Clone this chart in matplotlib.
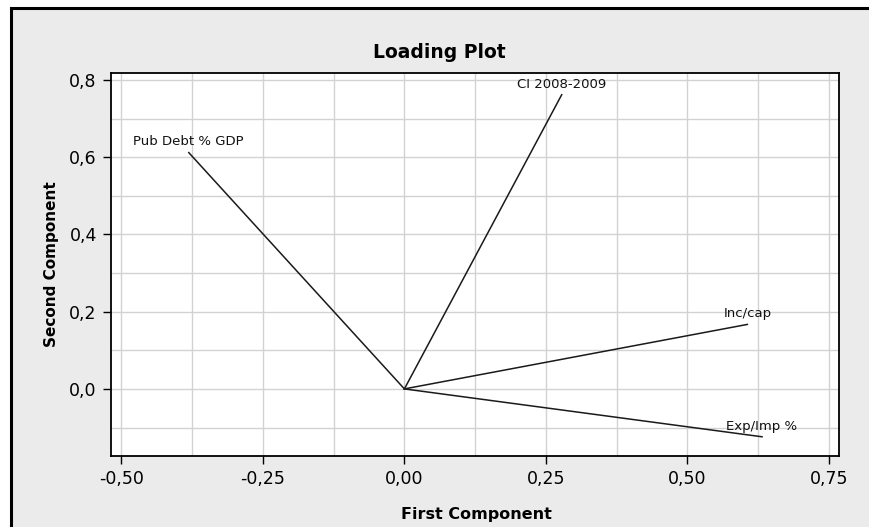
"""
Loading plot of the first two principal components.
"""

import numpy as np
import matplotlib
matplotlib.use("Agg")
import matplotlib.pyplot as plt
from matplotlib.patches import Rectangle
from matplotlib.ticker import MultipleLocator, FuncFormatter

# loadings on the first and second component
variables = ["Pub Debt % GDP", "CI 2008-2009", "Inc/cap", "Exp/Imp %"]
first_comp = [-0.381, 0.278, 0.606, 0.632]
second_comp = [0.612, 0.762, 0.167, -0.124]

x_ticks = [-0.50, -0.25, 0.00, 0.25, 0.50, 0.75]
y_ticks = [0.0, 0.2, 0.4, 0.6, 0.8]

W, H = 870, 527
fig = plt.figure(figsize=(W / 100, H / 100), dpi=100)
fig.patch.set_facecolor("white")

# grey panel with a black frame (right and bottom edges run off the figure)
frame = Rectangle((11 / W, -0.05), 1.1, 1 - 8 / H + 0.05,
                  transform=fig.transFigure, facecolor="#ebebeb",
                  edgecolor="black", linewidth=2.2, zorder=-5)
fig.patches.append(frame)

ax = fig.add_axes([110.7 / W, 1 - 455.7 / H, (839 - 110.7) / W, (455.7 - 72.7) / H])
ax.set_facecolor("white")
ax.set_zorder(2)

for name, x, y in zip(variables, first_comp, second_comp):
    ax.plot([0, x], [0, y], color="#1a1a1a", lw=1.1, zorder=3)
    ax.annotate(name, (x, y), xytext=(0, 3), textcoords="offset points",
                ha="center", va="bottom", fontsize=9.5, color="#111111",
                zorder=4)

ax.set_xlim(-0.519, 0.768)
ax.set_ylim(-0.173, 0.819)

ax.set_xticks(x_ticks)
ax.set_yticks(y_ticks)
ax.xaxis.set_minor_locator(MultipleLocator(0.125))
ax.yaxis.set_minor_locator(MultipleLocator(0.1))
ax.xaxis.set_major_formatter(FuncFormatter(lambda v, p: f"{v:.2f}".replace(".", ",")))
ax.yaxis.set_major_formatter(FuncFormatter(lambda v, p: f"{v:.1f}".replace(".", ",")))

ax.grid(which="both", color="#d2d2d2", lw=1.0, zorder=1)
ax.tick_params(which="minor", length=0)
ax.tick_params(which="major", direction="out", length=6, width=1.0,
               labelsize=12.5, pad=4, colors="black")
ax.set_axisbelow(True)

for s in ax.spines.values():
    s.set_color("black")
    s.set_linewidth(1.3)

fig.text(439 / W, 1 - 52 / H, "Loading Plot", ha="center",
         va="center", fontsize=13.5, fontweight="bold")
fig.text(476 / W, 1 - 515 / H, "First Component", ha="center",
         va="center", fontsize=11.5, fontweight="bold")
fig.text(52 / W, 1 - 264 / H, "Second Component", ha="center", va="center",
         rotation=90, fontsize=11, fontweight="bold")

fig.savefig("out.png", dpi=100)
